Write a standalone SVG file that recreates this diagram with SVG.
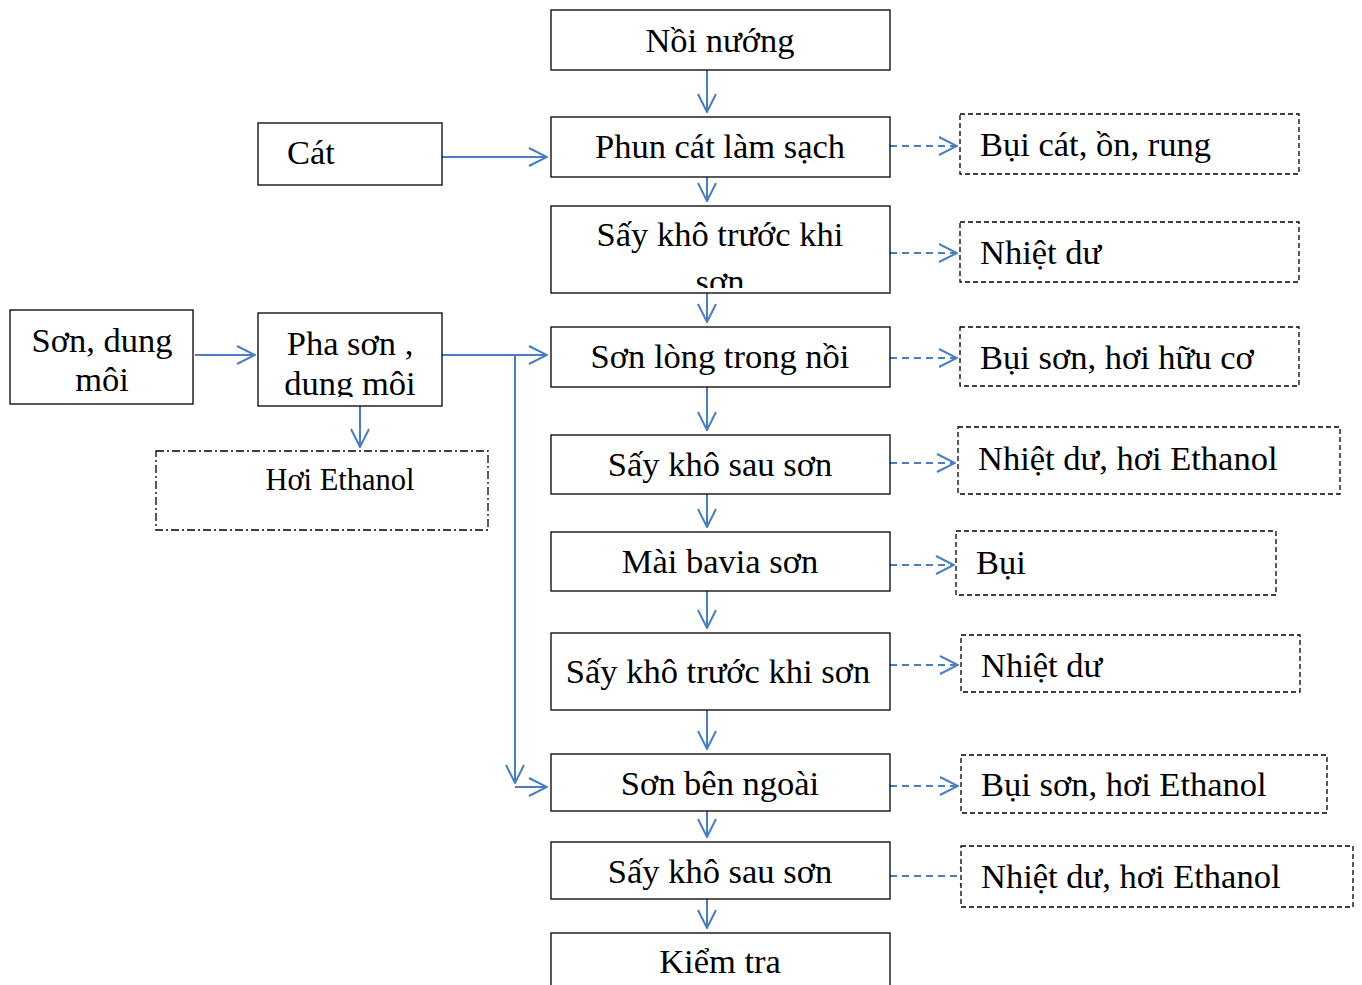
<svg xmlns="http://www.w3.org/2000/svg" width="1362" height="985" viewBox="0 0 1362 985">
<style>
.box{fill:#fff;stroke:#000;stroke-width:1.3}
.dbox{fill:#fff;stroke:#000;stroke-width:1.3;stroke-dasharray:5,3}
.ddbox{fill:#fff;stroke:#000;stroke-width:1.3;stroke-dasharray:8,3,2,3}
.t{font-family:"Liberation Serif","Times New Roman",serif;font-size:34.5px;fill:#000}
.tc{text-anchor:middle}
.ln{fill:none;stroke:#4a7ebf;stroke-width:2}
.dl{fill:none;stroke:#4a7ebf;stroke-width:2;stroke-dasharray:7,5}
</style>
<defs>
<marker id="ah" viewBox="0 0 20 20" refX="19" refY="10" markerWidth="20" markerHeight="20" markerUnits="userSpaceOnUse" orient="auto">
<path d="M1,1 L19,10 L1,19" fill="none" stroke="#4a7ebf" stroke-width="2"/>
</marker>
<clipPath id="c1"><rect x="551" y="206" width="339" height="82"/></clipPath>
<clipPath id="c2"><rect x="258" y="313" width="184" height="84"/></clipPath>
</defs>
<g id="connectors">
<line class="ln" x1="707" y1="70" x2="707" y2="112" marker-end="url(#ah)"/>
<line class="ln" x1="707" y1="177" x2="707" y2="201" marker-end="url(#ah)"/>
<line class="ln" x1="707" y1="293" x2="707" y2="322" marker-end="url(#ah)"/>
<line class="ln" x1="707" y1="387" x2="707" y2="430" marker-end="url(#ah)"/>
<line class="ln" x1="707" y1="494" x2="707" y2="527" marker-end="url(#ah)"/>
<line class="ln" x1="707" y1="591" x2="707" y2="628" marker-end="url(#ah)"/>
<line class="ln" x1="707" y1="710" x2="707" y2="749" marker-end="url(#ah)"/>
<line class="ln" x1="707" y1="811" x2="707" y2="837" marker-end="url(#ah)"/>
<line class="ln" x1="707" y1="899" x2="707" y2="928" marker-end="url(#ah)"/>
<line class="ln" x1="442" y1="157" x2="547" y2="157" marker-end="url(#ah)"/>
<line class="ln" x1="195" y1="355" x2="255" y2="355" marker-end="url(#ah)"/>
<line class="ln" x1="442" y1="355" x2="547" y2="355" marker-end="url(#ah)"/>
<line class="ln" x1="515" y1="355" x2="515" y2="783" marker-end="url(#ah)"/>
<line class="ln" x1="515" y1="787" x2="547" y2="787" marker-end="url(#ah)"/>
<line class="ln" x1="360" y1="406" x2="360" y2="447" marker-end="url(#ah)"/>
<line class="dl" x1="890" y1="146" x2="957" y2="146" marker-end="url(#ah)"/>
<line class="dl" x1="890" y1="253" x2="957" y2="253" marker-end="url(#ah)"/>
<line class="dl" x1="890" y1="358" x2="957" y2="358" marker-end="url(#ah)"/>
<line class="dl" x1="890" y1="463" x2="955" y2="463" marker-end="url(#ah)"/>
<line class="dl" x1="890" y1="565" x2="954" y2="565" marker-end="url(#ah)"/>
<line class="dl" x1="890" y1="665" x2="958" y2="665" marker-end="url(#ah)"/>
<line class="dl" x1="890" y1="786" x2="958" y2="786" marker-end="url(#ah)"/>
<line class="dl" x1="890" y1="876" x2="978" y2="876" marker-end="url(#ah)"/>
</g>
<g id="n1"><rect class="box" x="551" y="10" width="339" height="60"/><text class="t tc" x="720" y="52">Nồi nướng</text></g>
<g id="n2"><rect class="box" x="551" y="117" width="339" height="60"/><text class="t tc" x="720" y="158">Phun cát làm sạch</text></g>
<g id="n3"><rect class="box" x="551" y="206" width="339" height="87"/><g clip-path="url(#c1)"><text class="t tc" x="720" y="246">Sấy khô trước khi</text><text class="t tc" x="720" y="293">sơn</text></g></g>
<g id="n4"><rect class="box" x="551" y="327" width="339" height="60"/><text class="t tc" x="720" y="368">Sơn lòng trong nồi</text></g>
<g id="n5"><rect class="box" x="551" y="435" width="339" height="59"/><text class="t tc" x="720" y="476">Sấy khô sau sơn</text></g>
<g id="n6"><rect class="box" x="551" y="532" width="339" height="59"/><text class="t tc" x="720" y="573">Mài bavia sơn</text></g>
<g id="n7"><rect class="box" x="551" y="633" width="339" height="77"/><text class="t tc" x="718" y="683">Sấy khô trước khi sơn</text></g>
<g id="n8"><rect class="box" x="551" y="754" width="339" height="57"/><text class="t tc" x="720" y="795">Sơn bên ngoài</text></g>
<g id="n9"><rect class="box" x="551" y="842" width="339" height="57"/><text class="t tc" x="720" y="883">Sấy khô sau sơn</text></g>
<g id="n10"><rect class="box" x="551" y="933" width="339" height="60"/><text class="t tc" x="720" y="973">Kiểm tra</text></g>
<g id="cat"><rect class="box" x="258" y="123" width="184" height="62"/><text class="t" x="287" y="164">Cát</text></g>
<g id="sondm"><rect class="box" x="10" y="310" width="183" height="94"/><text class="t tc" x="102" y="352">Sơn, dung</text><text class="t tc" x="102" y="391">môi</text></g>
<g id="pha"><rect class="box" x="258" y="313" width="184" height="93"/><g clip-path="url(#c2)"><text class="t tc" x="350" y="355">Pha sơn ,</text><text class="t tc" x="350" y="395">dung môi</text></g></g>
<g id="hoi"><rect class="ddbox" x="156" y="451" width="332" height="79"/><text class="t tc" x="340" y="490" style="font-size:30.5px">Hơi Ethanol</text></g>
<g id="o1"><rect class="dbox" x="960" y="114" width="339" height="60"/><text class="t" x="980" y="156">Bụi cát, ồn, rung</text></g>
<g id="o2"><rect class="dbox" x="960" y="222" width="339" height="60"/><text class="t" x="980" y="264">Nhiệt dư</text></g>
<g id="o3"><rect class="dbox" x="960" y="327" width="339" height="59"/><text class="t" x="980" y="369">Bụi sơn, hơi hữu cơ</text></g>
<g id="o4"><rect class="dbox" x="958" y="427" width="382" height="67"/><text class="t" x="978" y="470">Nhiệt dư, hơi Ethanol</text></g>
<g id="o5"><rect class="dbox" x="956" y="531" width="320" height="64"/><text class="t" x="976" y="574">Bụi</text></g>
<g id="o6"><rect class="dbox" x="961" y="635" width="339" height="57"/><text class="t" x="981" y="677">Nhiệt dư</text></g>
<g id="o7"><rect class="dbox" x="961" y="755" width="366" height="58"/><text class="t" x="981" y="796">Bụi sơn, hơi Ethanol</text></g>
<g id="o8"><rect class="dbox" x="961" y="846" width="392" height="61"/><text class="t" x="981" y="888">Nhiệt dư, hơi Ethanol</text></g>
</svg>
